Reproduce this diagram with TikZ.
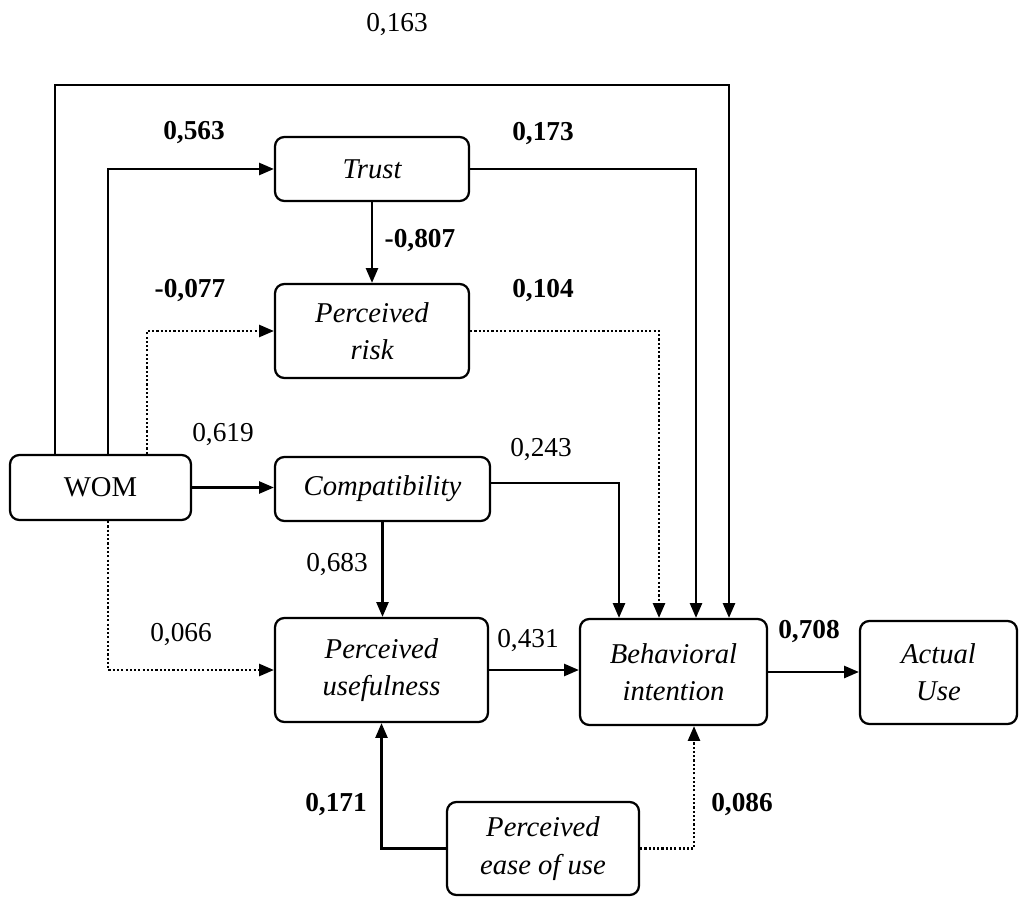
\documentclass[tikz,border=0pt]{standalone}
\usepackage{fontspec}
\setmainfont{Liberation Serif}
\usetikzlibrary{arrows.meta}
\begin{document}
\begin{tikzpicture}[x=0.75pt,y=-0.75pt,
  font=\fontsize{20.5}{28}\selectfont,
  box/.style 2 args={draw, line width=1.7pt, rounded corners=7pt,
    minimum width={#1*0.75pt}, minimum height={#2*0.75pt},
    inner sep=0pt, align=center, font=\fontsize{21.5}{28}\selectfont\itshape},
  link/.style={line width=1.6pt, -{Triangle[length=11pt,width=9pt]}},
  weak/.style={link, dash pattern=on 1.6pt off 1.6pt},
  coef/.style={inner sep=0pt},
  strong/.style={coef, font=\fontsize{20.5}{28}\selectfont\bfseries}]
\useasboundingbox (0,0) rectangle (1024,898);

% constructs
\node[box={194}{64}]  (trust) at (372,169)   {Trust};
\node[box={194}{94}]  (risk)  at (372,331)   {Perceived\\risk};
\node[box={181}{65}, font=\fontsize{21.5}{28}\selectfont] (wom) at (100.5,487.5) {WOM};
\node[box={215}{64}]  (comp)  at (382.5,489) {Compatibility};
\node[box={213}{104}] (pu)    at (381.5,670) {Perceived\\usefulness};
\node[box={187}{106}] (bi)    at (673.5,672) {Behavioral\\intention};
\node[box={157}{103}] (au)    at (938.5,672.5) {Actual\\Use};
\node[box={192}{93}]  (peou)  at (543,848.5) {Perceived\\ease of use};

% routing columns
\coordinate (xa) at (55,85);
\coordinate (xb) at (108,0);
\coordinate (xc) at (147,0);
\coordinate (xd) at (619,0);
\coordinate (xe) at (659,0);
\coordinate (xf) at (696,0);
\coordinate (xg) at (729,85);
\coordinate (xh) at (694,0);

% paths
\draw[link] (wom.north -| xa) |- (xg) -- (bi.north -| xg);
\draw[link] (wom.north -| xb) |- (trust.west);
\draw[link] (trust.east) -| (bi.north -| xf);
\draw[link] (trust.south) -- (risk.north);
\draw[weak] (wom.north -| xc) |- (risk.west);
\draw[weak] (risk.east) -| (bi.north -| xe);
\draw[link] (wom.east) -- (comp.west |- wom.east);
\draw[link] ([yshift=4.5pt]comp.east) -| (bi.north -| xd);
\draw[link] (comp.south) -- (comp.south |- pu.north);
\draw[weak] (wom.south -| xb) |- (pu.west);
\draw[link] (pu.east) -- (bi.west |- pu.east);
\draw[link] (bi.east) -- (au.west |- bi.east);
\draw[link] (peou.west) -| (pu.south);
\draw[weak] (peou.east) -| (bi.south -| xh);

% path coefficients
\node[coef]   (l163) at (397,25)  {0,163};
\node[strong] (l563) at (194,133) {0,563};
\node[strong] (l173) at (543,134) {0,173};
\node[strong] (l807) at (420,241) {-0,807};
\node[strong] (l077) at (190,291) {-0,077};
\node[strong] (l104) at (543,291) {0,104};
\node[coef]   (l619) at (223,435) {0,619};
\node[coef]   (l243) at (541,450) {0,243};
\node[coef]   (l683) at (337,565) {0,683};
\node[coef]   (l066) at (181,635) {0,066};
\node[coef]   (l431) at (528,641) {0,431};
\node[strong] (l708) at (809,632) {0,708};
\node[strong] (l171) at (336,805) {0,171};
\node[strong] (l086) at (742,805) {0,086};
\end{tikzpicture}
\end{document}
